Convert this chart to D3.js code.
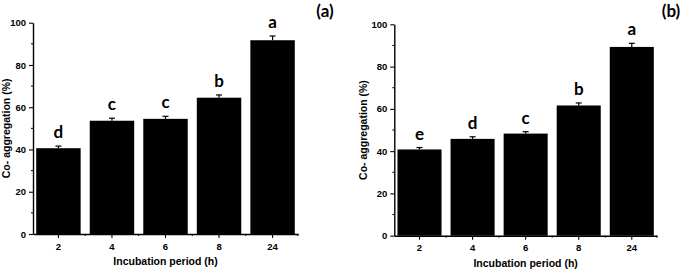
<!DOCTYPE html>
<html>
<head>
<meta charset="utf-8">
<script src="https://cdn.jsdelivr.net/npm/d3@7"></script>
<style>
  body { margin: 0; background: #fff; }
  svg { display: block; }
</style>
</head>
<body>
<div id="chart"></div>
<script>
const categories = ["2", "4", "6", "8", "24"];
const valuesA = [40.6, 53.6, 54.5, 64.5, 91.7];
const errorsA = [1.0, 1.2, 1.2, 1.3, 2.0];
const lettersA = ["d", "c", "c", "b", "a"];
const valuesB = [40.8, 45.8, 48.3, 61.6, 89.3];
const errorsB = [0.9, 1.0, 0.9, 1.2, 1.7];
const lettersB = ["e", "d", "c", "b", "a"];
const yTicks = [0, 20, 40, 60, 80, 100];
const yMinorTicks = [10, 30, 50, 70, 90];

const svg = d3.select("#chart")
    .append("svg")
    .attr("width", 685)
    .attr("height", 271);

function drawPanel(opts) {
    const g = svg.append("g");

    const x = d3.scaleBand()
        .domain(categories)
        .range([opts.left, opts.right])
        .paddingInner(0.17)
        .paddingOuter(0.06);

    const y = d3.scaleLinear()
        .domain([0, 100])
        .range([opts.bottom, opts.top]);

    // bars
    g.selectAll(".bar")
        .data(opts.values)
        .join("rect")
        .attr("x", (d, i) => x(categories[i]))
        .attr("y", d => y(d))
        .attr("width", x.bandwidth())
        .attr("height", d => y(0) - y(d))
        .attr("fill", "#000");

    // error bars (upper only)
    const cx = i => x(categories[i]) + x.bandwidth() / 2;
    g.selectAll(".err")
        .data(opts.values)
        .join("line")
        .attr("x1", (d, i) => cx(i))
        .attr("x2", (d, i) => cx(i))
        .attr("y1", d => y(d))
        .attr("y2", (d, i) => y(d + opts.errors[i]))
        .attr("stroke", "#000")
        .attr("stroke-width", 1.2);
    g.selectAll(".cap")
        .data(opts.values)
        .join("line")
        .attr("x1", (d, i) => cx(i) - 3)
        .attr("x2", (d, i) => cx(i) + 3)
        .attr("y1", (d, i) => y(d + opts.errors[i]))
        .attr("y2", (d, i) => y(d + opts.errors[i]))
        .attr("stroke", "#000")
        .attr("stroke-width", 1.2);

    // significance letters
    g.selectAll(".letter")
        .data(opts.letters)
        .join("text")
        .attr("x", (d, i) => cx(i))
        .attr("y", (d, i) => y(opts.values[i] + opts.errors[i]) - 8)
        .attr("text-anchor", "middle")
        .attr("font-family", "Lato, 'Open Sans', sans-serif")
        .attr("font-weight", "bold")
        .attr("font-size", 17)
        .text(d => d);

    // Y axis
    const yAxis = g.append("g")
        .attr("transform", `translate(${opts.left},0)`)
        .call(d3.axisLeft(y).tickValues(yTicks).tickSize(4).tickPadding(3).tickSizeOuter(0));
    yAxis.append("g").selectAll("line")
        .data(yMinorTicks)
        .join("line")
        .attr("x1", 0).attr("x2", -2)
        .attr("y1", d => y(d)).attr("y2", d => y(d))
        .attr("stroke", "#000");

    // X axis
    const xAxis = g.append("g")
        .attr("transform", `translate(0,${opts.bottom})`)
        .call(d3.axisBottom(x).tickSize(4).tickPadding(5).tickSizeOuter(0));
    const bounds = categories.slice(1).map((c, i) => (x(categories[i]) + x.bandwidth() + x(c)) / 2);
    bounds.push(opts.right);
    xAxis.append("g").selectAll("line")
        .data(bounds)
        .join("line")
        .attr("x1", d => d).attr("x2", d => d)
        .attr("y1", 0).attr("y2", 2)
        .attr("stroke", "#000");

    [yAxis, xAxis].forEach(a => {
        a.select(".domain").attr("stroke-width", 1.4);
        a.selectAll(".tick line").attr("stroke-width", 1.1);
        a.selectAll("text")
            .attr("font-family", "Liberation Sans, Arial, sans-serif")
            .attr("font-weight", "bold")
            .attr("font-size", 9.5)
            .attr("fill", "#000");
    });

    // axis titles
    g.append("text")
        .attr("transform", `translate(${opts.yLabelX},${(opts.top + opts.bottom) / 2}) rotate(-90)`)
        .attr("text-anchor", "middle")
        .attr("font-family", "Liberation Sans, Arial, sans-serif")
        .attr("font-weight", "bold")
        .attr("font-size", 10.5)
        .text("Co- aggregation (%)");

    g.append("text")
        .attr("x", (opts.left + opts.right) / 2)
        .attr("y", opts.bottom + 31)
        .attr("text-anchor", "middle")
        .attr("font-family", "Liberation Sans, Arial, sans-serif")
        .attr("font-weight", "bold")
        .attr("font-size", 10.5)
        .text("Incubation period (h)");

    // panel tag
    g.append("text")
        .attr("x", opts.tagX)
        .attr("y", 17)
        .attr("text-anchor", "middle")
        .attr("font-family", "Lato, 'Open Sans', sans-serif")
        .attr("font-weight", "bold")
        .attr("font-size", 17)
        .text(opts.tag);
}

drawPanel({
    left: 33, right: 298, top: 22.7, bottom: 234,
    values: valuesA, errors: errorsA, letters: lettersA,
    yLabelX: 10, tagX: 325, tag: "(a)"
});

drawPanel({
    left: 394.3, right: 657, top: 24.3, bottom: 235.7,
    values: valuesB, errors: errorsB, letters: lettersB,
    yLabelX: 367, tagX: 671, tag: "(b)"
});
</script>
</body>
</html>
